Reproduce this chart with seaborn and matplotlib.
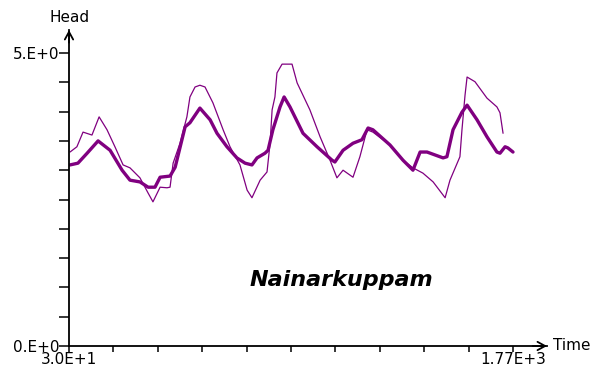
import matplotlib
matplotlib.use("Agg")
import matplotlib.pyplot as plt
import seaborn as sns
import pandas as pd

# Computed head (thick line)
calc_time = [34, 65, 101, 144, 191, 238, 269, 308, 340, 367, 387, 426, 446, 485, 504,
             543, 583, 610, 649, 688, 720, 747, 767, 798, 810, 829, 857, 873, 896, 947,
             1002, 1061, 1072, 1104, 1143, 1178, 1202, 1221, 1288, 1339, 1378, 1406,
             1433, 1496, 1511, 1535, 1570, 1590, 1629, 1668, 1707, 1719, 1739, 1750, 1770]
calc_head = [3.09, 3.12, 3.29, 3.50, 3.34, 3.00, 2.83, 2.80, 2.71, 2.71, 2.88, 2.90, 3.05,
             3.74, 3.81, 4.06, 3.86, 3.63, 3.40, 3.21, 3.12, 3.09, 3.21, 3.29, 3.34, 3.69,
             4.08, 4.25, 4.08, 3.63, 3.40, 3.17, 3.14, 3.34, 3.46, 3.52, 3.72, 3.69, 3.43,
             3.17, 3.00, 3.31, 3.31, 3.21, 3.23, 3.69, 3.99, 4.11, 3.86, 3.57, 3.31, 3.29,
             3.40, 3.38, 3.31]

# Observed head (thin line)
obs_time = [34, 61, 85, 120, 148, 179, 210, 242, 269, 308, 340, 359, 387, 414, 426, 438,
            465, 492, 504, 524, 543, 563, 594, 634, 661, 700, 728, 747, 779, 806, 818,
            826, 837, 845, 865, 904, 924, 974, 1014, 1053, 1080, 1104, 1143, 1170, 1198,
            1221, 1288, 1339, 1378, 1417, 1457, 1504, 1523, 1562, 1570, 1582, 1590, 1621,
            1668, 1707, 1719, 1731]
obs_head = [3.31, 3.40, 3.65, 3.60, 3.91, 3.69, 3.40, 3.09, 3.04, 2.87, 2.61, 2.46, 2.71,
            2.70, 2.71, 3.12, 3.46, 3.91, 4.25, 4.42, 4.45, 4.42, 4.15, 3.69, 3.40, 3.09,
            2.66, 2.53, 2.83, 2.97, 3.46, 4.03, 4.25, 4.66, 4.81, 4.81, 4.49, 4.03, 3.57,
            3.17, 2.87, 3.00, 2.88, 3.23, 3.69, 3.65, 3.43, 3.17, 3.04, 2.95, 2.80, 2.53,
            2.83, 3.23, 3.69, 4.28, 4.59, 4.51, 4.23, 4.08, 3.98, 3.63]

y_tick_labels = {0.0: "0.E+0", 5.0: "5.E+0"}
x_tick_labels = {30: "3.0E+1", 1770: "1.77E+3"}
station = "Nainarkuppam"

W, H = 594, 380
sns.set_style("white")
plt.rcParams['font.family'] = ['DejaVu Sans']
plt.rcParams['text.color'] = 'black'

fig = plt.figure(figsize=(W / 100, H / 100), dpi=100)
# axis origin at pixel (69, 346); arrow tips at x=547 and y=30
ax = fig.add_axes([69 / W, (H - 346) / H, (547 - 69) / W, (346 - 30) / H])

purple = "#800080"
calc_df = pd.DataFrame({"Time": calc_time, "Head": calc_head})
obs_df = pd.DataFrame({"Time": obs_time, "Head": obs_head})
sns.lineplot(data=obs_df, x="Time", y="Head", ax=ax, color=purple, linewidth=0.9,
             estimator=None, sort=False)
sns.lineplot(data=calc_df, x="Time", y="Head", ax=ax, color=purple, linewidth=2.4,
             estimator=None, sort=False)

xscale = 1740 / (513 - 69)
yscale = 5 / (346 - 53)
ax.set_xlim(30, 30 + (547 - 69) * xscale)
ax.set_ylim(0, (346 - 30) * yscale)

for s in ["top", "right"]:
    ax.spines[s].set_visible(False)
for s in ["left", "bottom"]:
    ax.spines[s].set_linewidth(1.3)
    ax.spines[s].set_color("black")

yt = [i * 0.5 for i in range(11)]
ax.set_yticks(yt)
ax.set_yticklabels([y_tick_labels.get(v, "") for v in yt])
xt = [30 + i * 174 for i in range(11)]
ax.set_xticks(xt)
ax.set_xticklabels([x_tick_labels.get(v, "") for v in xt])
ax.tick_params(axis="y", direction="out", length=7, width=1.1, color="black",
               labelcolor="black", labelsize=11, pad=0, left=True)
ax.tick_params(axis="x", direction="out", length=4.5, width=1.1, color="black",
               labelcolor="black", labelsize=11, pad=0, bottom=True)
ax.set_xlabel("")
ax.set_ylabel("")

# arrows
ax.annotate("", xy=(1, 0), xycoords="axes fraction", xytext=(0.97, 0),
            arrowprops=dict(arrowstyle="->,head_length=0.55,head_width=0.3",
                            lw=1.3, color="black", shrinkA=0, shrinkB=0),
            annotation_clip=False)
ax.annotate("", xy=(0, 1), xycoords="axes fraction", xytext=(0, 0.96),
            arrowprops=dict(arrowstyle="->,head_length=0.55,head_width=0.3",
                            lw=1.3, color="black", shrinkA=0, shrinkB=0),
            annotation_clip=False)

fig.text(70 / W, 1 - 17 / H, "Head", ha="center", va="center", fontsize=11, color="black")
fig.text(553 / W, 1 - 346 / H, "Time", ha="left", va="center", fontsize=11, color="black")
fig.text(250 / W, 1 - 286 / H, station, ha="left", va="baseline", fontsize=16,
         fontweight="bold", fontstyle="italic", color="black")

fig.savefig("out.png", dpi=100)
